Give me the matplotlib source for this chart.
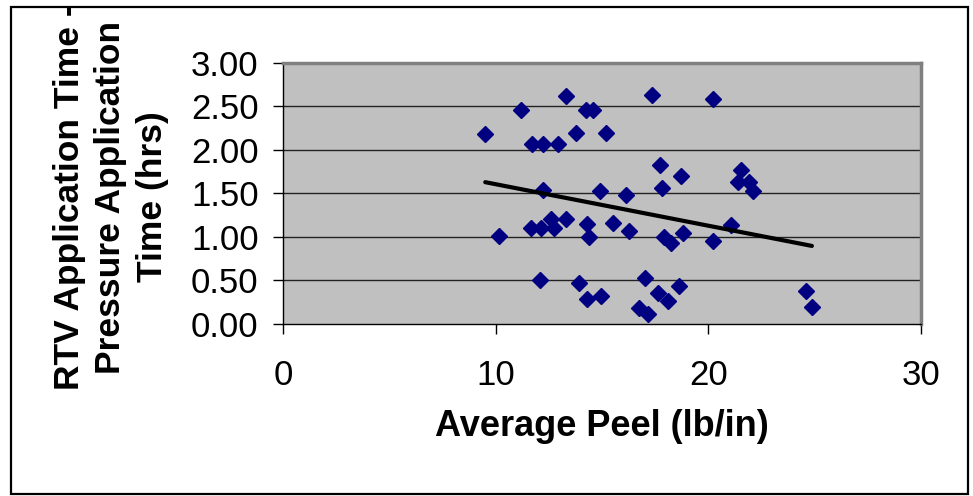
import numpy as np
import matplotlib
matplotlib.use("Agg")
import matplotlib.pyplot as plt
from matplotlib.patches import Rectangle

# Average peel (lb/in) vs RTV - pressure application time (hrs)
peel = [9.51, 11.21, 13.32, 11.71, 12.22, 12.94, 13.79, 14.26, 14.58, 15.17,
        17.36, 20.20, 17.74, 17.82, 18.71, 21.54, 21.38, 21.93, 22.12, 12.22,
        14.89, 16.12, 10.14, 11.64, 12.11, 12.58, 12.74, 13.29, 14.31, 14.39,
        15.52, 16.27, 17.90, 18.24, 18.83, 20.20, 21.07, 12.08, 13.92, 14.31,
        14.94, 17.01, 16.75, 17.17, 17.61, 18.11, 18.63, 24.61, 24.87]
hours = [2.18, 2.45, 2.61, 2.06, 2.06, 2.06, 2.19, 2.45, 2.45, 2.19,
         2.63, 2.58, 1.82, 1.56, 1.70, 1.77, 1.63, 1.63, 1.53, 1.54,
         1.53, 1.48, 1.01, 1.10, 1.10, 1.21, 1.10, 1.21, 1.15, 1.00,
         1.16, 1.07, 1.00, 0.93, 1.04, 0.95, 1.14, 0.50, 0.47, 0.29,
         0.32, 0.53, 0.18, 0.11, 0.35, 0.26, 0.44, 0.38, 0.20]

y_ticks = [0.0, 0.5, 1.0, 1.5, 2.0, 2.5, 3.0]
x_ticks = [0, 10, 20, 30]

plt.rcParams['font.family'] = ['Liberation Sans', 'DejaVu Sans']

fig = plt.figure(figsize=(9.73, 4.96), dpi=100)
ax = fig.add_axes([283 / 973, 1 - 324 / 496, (921 - 283) / 973, (324 - 62.5) / 496])
ax.set_facecolor('#C0C0C0')

# outer chart border
fig.patches.append(Rectangle((11 / 973, 2 / 496), 957 / 973, 487 / 496,
                             transform=fig.transFigure, fill=False,
                             edgecolor='black', linewidth=1.6))

for y in y_ticks[1:-1]:
    ax.axhline(y, color='#222222', linewidth=1.0, zorder=1)

ax.plot(peel, hours, linestyle='none', marker='D', markersize=8.5,
        color='#000080', zorder=3)

# linear trend line over the data range
coef = np.polyfit(peel, hours, 1)
xs = np.array([min(peel), max(peel)])
ax.plot(xs, np.polyval(coef, xs), color='black', linewidth=3, zorder=4,
        solid_capstyle='round')

ax.set_xlim(0, 30)
ax.set_ylim(0, 3)
ax.set_xticks(x_ticks)
ax.set_yticks(y_ticks)
ax.set_yticklabels([f"{v:.2f}" for v in y_ticks])

for side in ['top', 'right']:
    ax.spines[side].set_color('#808080')
    ax.spines[side].set_linewidth(2.5)
for side in ['left', 'bottom']:
    ax.spines[side].set_color('black')
    ax.spines[side].set_linewidth(1.0)

ax.tick_params(axis='both', direction='out', length=7.5, width=1, labelsize=25)
ax.tick_params(axis='y', pad=10)
ax.tick_params(axis='x', pad=18)

ax.set_xlabel('Average Peel (lb/in)', fontsize=26, fontweight='bold', labelpad=12)
fig.text(111 / 973, 1 - 197 / 496,
         'RTV Application Time -\nPressure Application\nTime (hrs)',
         rotation=90, ha='center', va='center', multialignment='center',
         fontsize=25.5, fontweight='bold', linespacing=1.32)

fig.savefig('out.png', dpi=100)
